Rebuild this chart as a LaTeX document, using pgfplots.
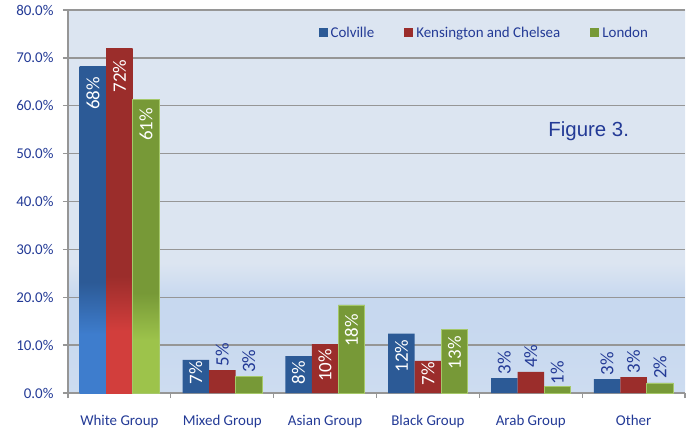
\documentclass[border=0pt]{standalone}
\usepackage{pgfplots}
\pgfplotsset{compat=1.18}
\usepackage{fontspec}
\setmainfont{Carlito}
\newfontfamily\arialf{Liberation Sans}

\definecolor{lblue}{RGB}{35,58,150}
\definecolor{gridc}{RGB}{150,150,150}
\definecolor{cvD}{RGB}{44,90,150}
\definecolor{cvL}{RGB}{62,125,205}
\definecolor{kcD}{RGB}{155,45,43}
\definecolor{kcL}{RGB}{210,62,60}
\definecolor{lnD}{RGB}{119,153,55}
\definecolor{lnL}{RGB}{157,195,75}
\definecolor{lnE}{RGB}{165,200,105}
\definecolor{bgT}{RGB}{220,229,241}
\definecolor{bgM}{RGB}{199,216,239}
\definecolor{bgB}{RGB}{205,220,240}

\pgfdeclareverticalshading{bgshade}{100bp}{color(0bp)=(bgB); color(25bp)=(bgB); color(34bp)=(bgM); color(37.5bp)=(bgM); color(42bp)=(bgT); color(100bp)=(bgT)}
\pgfdeclareverticalshading{cvshade}{100bp}{color(0bp)=(cvL); color(25bp)=(cvL); color(34bp)=(cvL); color(42bp)=(cvD); color(100bp)=(cvD)}
\pgfdeclareverticalshading{kcshade}{100bp}{color(0bp)=(kcL); color(25bp)=(kcL); color(34bp)=(kcL); color(42bp)=(kcD); color(100bp)=(kcD)}
\pgfdeclareverticalshading{lnshade}{100bp}{color(0bp)=(lnL); color(25bp)=(lnL); color(34bp)=(lnL); color(42bp)=(lnD); color(100bp)=(lnD)}

% in: 1 = label inside the bar (white), 0 = above the bar (blue); os = gap in bp
\pgfplotstableread{
x y lab in os
0 68.1 68 1 10
}\cvW
\pgfplotstableread{
x y lab in os
0 71.9 72 1 11
}\kcW
\pgfplotstableread{
x y lab in os
0 61.4 61 1 9
}\lnW
\pgfplotstableread{
x y lab in os
1 6.9 7 1 1
2 7.7 8 1 5
3 12.4 12 1 6
4 3.1 3 0 4
5 2.9 3 0 4
}\cvR
\pgfplotstableread{
x y lab in os
1 4.8 5 0 4
2 10.2 10 1 5
3 6.7 7 1 1
4 4.4 4 0 4
5 3.3 3 0 4
}\kcR
\pgfplotstableread{
x y lab in os
1 3.4 3 0 4
2 18.4 18 1 9
3 13.3 13 1 7
4 1.4 1 0 2
5 2.1 2 0 4
}\lnR

\begin{document}
\begin{tikzpicture}
\begin{axis}[
  name=ax,
  scale only axis, width=617bp, height=383bp,
  xmin=-0.5, xmax=5.5, ymin=0, ymax=80,
  ybar, bar width=26.5bp,
  axis x line*=bottom, axis y line*=left,
  axis line style={draw=gridc, line width=1.3bp, -},
  ytick={0,10,...,80},
  ymajorgrids, grid style={draw=gridc, line width=1.3bp},
  yticklabel={\pgfmathprintnumber[fixed,fixed zerofill,precision=1]{\tick}\%},
  xtick={-0.5,0.5,1.5,2.5,3.5,4.5,5.5},
  xticklabels={,,,,,,},
  extra x ticks={0,1,2,3,4,5},
  extra x tick labels={White Group,Mixed Group,Asian Group,Black Group,Arab Group,Other},
  extra x tick style={tick style={draw=none}, grid=none},
  tick align=outside, major tick length=5bp,
  tick style={draw=gridc, line width=1.3bp},
  tick label style={font=\fontsize{15}{16}\selectfont, text=lblue},
  /pgf/number format/assume math mode=true,
  yticklabel style={xshift=-6bp},
  xticklabel style={yshift=-14bp},
  axis background/.style={shade, shading=bgshade},
  legend style={at={(rel axis cs:0.673,0.94)}, anchor=center, draw=none, fill=none,
    font=\fontsize{15}{16}\selectfont, text=lblue,
    nodes={inner sep=0pt},
    /tikz/every odd column/.append style={column sep=3bp},
    /tikz/every even column/.append style={column sep=30bp}},
  legend columns=-1,
  legend image code/.code={\draw[#1,/tikz/.cd,draw=none,yshift=-4.5bp] (0bp,0bp) rectangle (9bp,9bp);},
  nodes near coords={\pgfplotspointmeta\%},
  point meta=explicit symbolic,
  visualization depends on={\thisrow{in}\as\inflag},
  visualization depends on={\thisrow{os}\as\os},
  every node near coord/.append style={rotate=90, inner sep=0pt,
    font=\fontsize{19}{20}\selectfont, outer xsep=\os bp},
  every node near coord/.append code={%
    \ifdim\inflag pt>0.5pt \pgfkeysalso{anchor=east,text=white}%
    \else \pgfkeysalso{anchor=west,text=lblue}\fi},
]
\addplot[fill=cvD, draw=none, bar shift=-26.5bp] table[x=x,y=y,meta=lab]{\cvR};
\addplot[fill=kcD, draw=none, bar shift=0bp] table[x=x,y=y,meta=lab]{\kcR};
\addplot[fill=lnD, draw=lnE, line width=0.8bp, bar shift=26.5bp] table[x=x,y=y,meta=lab]{\lnR};
\addplot[forget plot, shade, shading=cvshade, draw=none, bar shift=-26.5bp] table[x=x,y=y,meta=lab]{\cvW};
\addplot[forget plot, shade, shading=kcshade, draw=none, bar shift=0bp] table[x=x,y=y,meta=lab]{\kcW};
\addplot[forget plot, shade, shading=lnshade, draw=lnE, line width=0.8bp, bar shift=26.5bp] table[x=x,y=y,meta=lab]{\lnW};
\legend{Colville, Kensington and Chelsea, London}
\node[font=\arialf\fontsize{20.5}{22}\selectfont, text=lblue] at (rel axis cs:0.844,0.684) {Figure 3.};
\end{axis}
\pgfresetboundingbox
\path[use as bounding box] ([shift={(-68bp,-36bp)}]ax.south west) rectangle ([shift={(4bp,10bp)}]ax.north east);
\end{tikzpicture}
\end{document}
